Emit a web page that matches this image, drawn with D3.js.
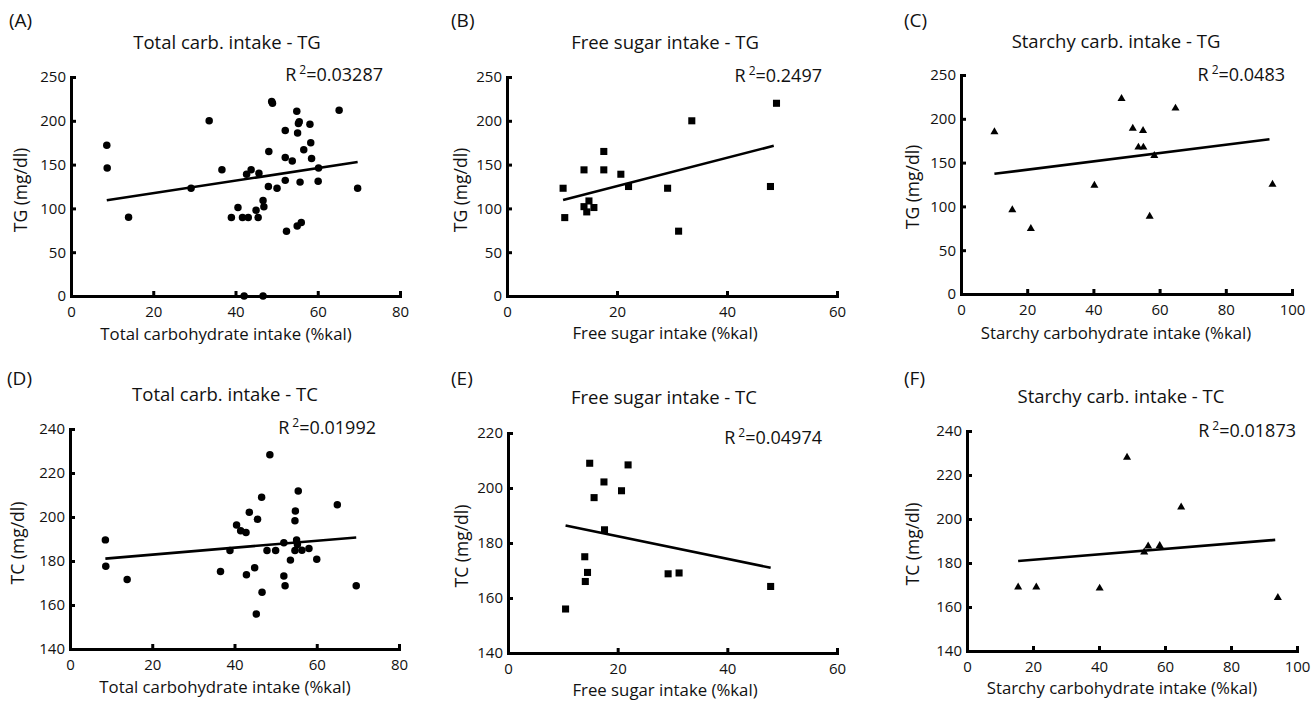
<!DOCTYPE html>
<html>
<head>
<meta charset="utf-8">
<script src="https://cdn.jsdelivr.net/npm/d3@7"></script>
<style>
body { margin: 0; background: #fff; }
svg text { font-family: "Open Sans", sans-serif; fill: #111; }
</style>
</head>
<body>
<div id="chart"></div>
<script>
// (A) total carbohydrate intake vs TG
var totalCarbA = [8.7, 8.8, 14.0, 29.2, 33.6, 36.7, 39.0, 40.6, 41.7, 43.1, 42.7, 43.8, 42.1, 45.0, 45.5, 45.7, 46.7, 46.9, 46.7, 48.1, 48.0, 48.8, 49.0, 50.1, 52.1, 52.1, 52.1, 52.4, 53.8, 54.9, 55.1, 55.3, 55.5, 55.0, 56.0, 55.7, 56.6, 58.1, 58.3, 58.5, 60.2, 60.1, 65.2, 69.7];
var tgA = [172, 146, 90, 123, 200, 144, 89.5, 101, 89.5, 89.5, 139, 144, 0, 98, 89.5, 140, 109, 102, 0, 165, 125, 222, 220, 123, 189, 158, 132, 74, 154, 211, 186, 197, 199, 80, 84, 130, 167, 196, 175, 157, 146, 131, 212, 123];
// (B) free sugar intake vs TG
var freeSugarB = [10.2, 10.5, 14.0, 14.0, 14.5, 14.9, 15.8, 17.6, 17.6, 20.7, 22.1, 29.2, 31.2, 33.6, 47.9, 49.0];
var tgB = [123, 89.5, 144, 102, 96, 108.5, 101, 165, 144, 139, 125, 123, 74, 200, 125, 220];
// (C) starchy carbohydrate intake vs TG
var starchyC = [10.1, 15.5, 21.1, 40.3, 48.5, 51.9, 53.6, 55.0, 55.1, 57.0, 58.4, 64.8, 94.1];
var tgC = [185, 96, 74.5, 124, 223, 189, 167.5, 186.5, 167.5, 88.5, 158, 212, 125];
// (D) total carbohydrate intake vs TC
var totalCarbD = [8.6, 8.7, 13.9, 36.6, 38.9, 40.5, 41.5, 42.8, 42.9, 43.6, 44.9, 45.3, 45.6, 46.6, 46.7, 47.9, 48.6, 50.0, 52.0, 52.0, 52.3, 53.6, 54.7, 54.8, 54.7, 55.1, 55.3, 55.5, 56.4, 58.1, 60.0, 65.0, 69.6];
var tcD = [189.6, 177.6, 171.6, 175.2, 184.8, 196.4, 193.7, 193.0, 173.8, 202.2, 176.9, 155.9, 199.0, 209.0, 165.8, 184.8, 228.3, 184.8, 173.2, 188.3, 168.8, 180.4, 198.3, 202.7, 184.8, 189.6, 187.5, 211.8, 184.9, 185.7, 180.8, 205.6, 168.7];
// (E) free sugar intake vs TC
var freeSugarE = [10.5, 14.0, 14.1, 14.5, 14.9, 15.7, 17.5, 17.6, 20.7, 21.9, 29.2, 31.2, 47.9];
var tcE = [156, 175, 166, 169.3, 209, 196.5, 202.2, 184.8, 199, 208.4, 168.8, 169.1, 164.2];
// (F) starchy carbohydrate intake vs TC
var starchyF = [15.5, 21.0, 40.2, 48.5, 53.7, 54.9, 58.4, 64.9, 94.2];
var tcF = [169, 169, 168.5, 228, 184.9, 187.7, 187.9, 205.4, 164.2];

// regression line end points
var fitA = [[8.7, 109.3], [69.7, 152.9]];
var fitB = [[10.2, 109.6], [48.5, 171.5]];
var fitC = [[10.1, 137.2], [93.2, 176.7]];
var fitD = [[8.6, 181.1], [69.6, 190.7]];
var fitE = [[10.5, 186.4], [47.9, 171.0]];
var fitF = [[15.5, 180.9], [93.4, 190.5]];

var r2Labels = ["0.03287", "0.2497", "0.0483", "0.01992", "0.04974", "0.01873"];
var panelLetters = ["(A)", "(B)", "(C)", "(D)", "(E)", "(F)"];
var titles = ["Total carb. intake - TG", "Free sugar intake - TG", "Starchy carb. intake - TG",
              "Total carb. intake - TC", "Free sugar intake - TC", "Starchy carb. intake - TC"];
var xLabels = ["Total carbohydrate intake (%kal)", "Free sugar intake (%kal)", "Starchy carbohydrate intake (%kal)"];
var yLabels = ["TG (mg/dl)", "TC (mg/dl)"];

var xTicks80 = [0, 20, 40, 60, 80];
var xTicks60 = [0, 20, 40, 60];
var xTicks100 = [0, 20, 40, 60, 80, 100];
var yTicksTG = [0, 50, 100, 150, 200, 250];
var yTicksTC240 = [140, 160, 180, 200, 220, 240];
var yTicksTC220 = [140, 160, 180, 200, 220];

var panels = [
    { xs: totalCarbA, ys: tgA, fit: fitA, xt: xTicks80, yt: yTicksTG, xl: xLabels[0], yl: yLabels[0], sym: "circle",
      box: [71, 400, 77, 296], letter: [9, 20], title: [227, 43], r2: [383, 75], xlab: [226, 334], ylab: [21, 190] },
    { xs: freeSugarB, ys: tgB, fit: fitB, xt: xTicks60, yt: yTicksTG, xl: xLabels[1], yl: yLabels[0], sym: "square",
      box: [507, 837, 77, 296], letter: [451, 20], title: [665, 43], r2: [822, 76], xlab: [665, 333], ylab: [461, 190] },
    { xs: starchyC, ys: tgC, fit: fitC, xt: xTicks100, yt: yTicksTG, xl: xLabels[2], yl: yLabels[0], sym: "triangle",
      box: [961, 1292, 75, 294], letter: [904, 20], title: [1116, 42], r2: [1285, 75], xlab: [1116, 333], ylab: [913, 187] },
    { xs: totalCarbD, ys: tcD, fit: fitD, xt: xTicks80, yt: yTicksTC240, xl: xLabels[0], yl: yLabels[1], sym: "circle",
      box: [70, 399, 429, 649], letter: [7, 378], title: [225, 395], r2: [376, 428], xlab: [225, 687], ylab: [18, 543] },
    { xs: freeSugarE, ys: tcE, fit: fitE, xt: xTicks60, yt: yTicksTC220, xl: xLabels[1], yl: yLabels[1], sym: "square",
      box: [508, 837, 433, 653], letter: [451, 378], title: [664, 398], r2: [822, 438], xlab: [665, 690], ylab: [462, 546] },
    { xs: starchyF, ys: tcF, fit: fitF, xt: xTicks100, yt: yTicksTC240, xl: xLabels[2], yl: yLabels[1], sym: "triangle",
      box: [967, 1297, 431, 651], letter: [904, 378], title: [1121, 397], r2: [1296, 431], xlab: [1122, 688], ylab: [913, 544] }
];

var svg = d3.select("#chart")
    .append("svg")
    .attr("width", 1311)
    .attr("height", 701);

var symbols = {
    circle: d3.symbol().type(d3.symbolCircle).size(44),
    square: d3.symbol().type(d3.symbolSquare).size(50),
    triangle: d3.symbol().type(d3.symbolTriangle).size(28)
};

panels.forEach(function(p, i) {
    var x = d3.scaleLinear()
        .domain([p.xt[0], p.xt[p.xt.length - 1]])
        .range([p.box[0], p.box[1]]);
    var y = d3.scaleLinear()
        .domain([p.yt[0], p.yt[p.yt.length - 1]])
        .range([p.box[3], p.box[2]]);

    var g = svg.append("g").attr("class", "panel");

    g.append("text")
        .attr("x", p.letter[0])
        .attr("y", p.letter[1])
        .attr("dy", "0.35em")
        .attr("font-size", "19px")
        .text(panelLetters[i]);

    g.append("text")
        .attr("x", p.title[0])
        .attr("y", p.title[1])
        .attr("dy", "0.35em")
        .attr("text-anchor", "middle")
        .attr("font-size", "18.5px")
        .text(titles[i]);

    var r2 = g.append("text")
        .attr("x", p.r2[0])
        .attr("y", p.r2[1])
        .attr("dy", "0.35em")
        .attr("text-anchor", "end")
        .attr("font-size", "18px");
    r2.append("tspan").text("R");
    r2.append("tspan").attr("dx", 3).attr("dy", -7).attr("font-size", "12px").text("2");
    r2.append("tspan").attr("dy", 7).text("=" + r2Labels[i]);

    var xAxis = g.append("g")
        .attr("transform", "translate(0," + p.box[3] + ")")
        .call(d3.axisBottom(x).tickValues(p.xt).tickSizeInner(-5).tickSizeOuter(0).tickPadding(10));
    var yAxis = g.append("g")
        .attr("transform", "translate(" + p.box[0] + ",0)")
        .call(d3.axisLeft(y).tickValues(p.yt).tickSizeInner(-5).tickSizeOuter(0).tickPadding(5));

    [xAxis, yAxis].forEach(function(a) {
        a.select(".domain").attr("stroke", "#000").attr("stroke-width", 3).attr("stroke-linecap", "square");
        a.selectAll(".tick line").attr("stroke", "#000").attr("stroke-width", 3);
        a.selectAll(".tick text").attr("font-size", "15px").attr("fill", "#111")
            .attr("font-family", "'Open Sans', sans-serif");
    });

    g.append("text")
        .attr("x", p.xlab[0])
        .attr("y", p.xlab[1])
        .attr("dy", "0.35em")
        .attr("text-anchor", "middle")
        .attr("font-size", "16.8px")
        .text(p.xl);

    g.append("text")
        .attr("transform", "translate(" + p.ylab[0] + "," + p.ylab[1] + ") rotate(-90)")
        .attr("dy", "0.35em")
        .attr("text-anchor", "middle")
        .attr("font-size", "17.5px")
        .text(p.yl);

    g.append("line")
        .attr("x1", x(p.fit[0][0]))
        .attr("y1", y(p.fit[0][1]))
        .attr("x2", x(p.fit[1][0]))
        .attr("y2", y(p.fit[1][1]))
        .attr("stroke", "#000")
        .attr("stroke-width", 2.6);

    g.selectAll("path.pt")
        .data(p.xs)
        .enter()
        .append("path")
        .attr("class", "pt")
        .attr("d", symbols[p.sym])
        .attr("transform", function(d, j) {
            return "translate(" + x(d) + "," + y(p.ys[j]) + ")";
        })
        .attr("fill", "#000");
});
</script>
</body>
</html>
